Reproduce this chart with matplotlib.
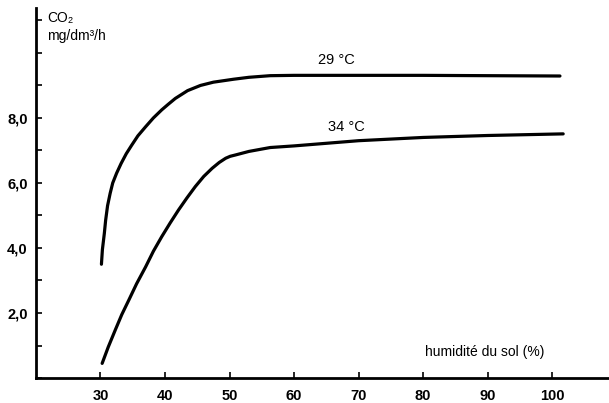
import numpy as np
import matplotlib
matplotlib.use("Agg")
import matplotlib.pyplot as plt
from matplotlib.ticker import FuncFormatter, MultipleLocator

# soil humidity (%) and CO2 release (mg/dm3/h)
hum_29 = [30.15, 30.3, 30.6, 30.8, 31.1, 31.5, 31.9, 32.5, 33.2, 34.0, 34.8, 35.8, 37.0,
          38.2, 39.5, 40.5, 41.6, 43.5, 45.5, 47.5, 50.6, 53, 56.3, 60, 65, 80, 90, 101.2]
co2_29 = [3.5, 3.95, 4.45, 4.85, 5.3, 5.68, 6.0, 6.3, 6.6, 6.9, 7.15, 7.45, 7.73,
          8.0, 8.25, 8.42, 8.6, 8.84, 9.0, 9.1, 9.19, 9.25, 9.3, 9.31, 9.31, 9.31, 9.3, 9.29]

hum_34 = [30.26, 31.2, 32.3, 33.3, 34.4, 35.6, 37.0, 38.2, 39.5, 40.8, 42.1, 43.4, 44.7,
          46.0, 47.3, 48.4, 49.4, 50.1, 50.9, 53, 56.3, 60, 70, 80, 90, 101.7]
co2_34 = [0.45, 0.95, 1.48, 1.95, 2.4, 2.9, 3.42, 3.9, 4.35, 4.77, 5.17, 5.54, 5.89,
          6.2, 6.45, 6.63, 6.76, 6.82, 6.86, 6.97, 7.09, 7.14, 7.3, 7.4, 7.46, 7.51]

x_ticks = [30, 40, 50, 60, 70, 80, 90, 100]
y_ticks = [2, 4, 6, 8]

plt.rcParams['font.family'] = ['Liberation Sans', 'DejaVu Sans']

fig = plt.figure(figsize=(6.09, 4.03), dpi=100)
ax = fig.add_axes([0.059, 0.062, 0.941, 0.918])

ax.plot(hum_29, co2_29, color='black', lw=2.3, solid_capstyle='round', solid_joinstyle='round')
ax.plot(hum_34, co2_34, color='black', lw=2.3, solid_capstyle='round', solid_joinstyle='round')

ax.set_xlim(20, 108.8)
ax.set_ylim(0, 11.38)

ax.spines['top'].set_visible(False)
ax.spines['right'].set_visible(False)
ax.spines['left'].set_linewidth(2.0)
ax.spines['bottom'].set_linewidth(2.0)

ax.set_xticks(x_ticks)
ax.set_yticks(y_ticks)
ax.yaxis.set_minor_locator(MultipleLocator(1))
ax.yaxis.set_major_formatter(FuncFormatter(lambda v, p: ('%.1f' % v).replace('.', ',')))
ax.tick_params(direction='in', length=4, width=1.2, labelsize=10.5)
ax.tick_params(axis='y', which='minor', direction='in', length=4, width=1.2)
ax.tick_params(axis='x', pad=8)
ax.tick_params(axis='y', pad=6)
for lab in ax.get_xticklabels() + ax.get_yticklabels():
    lab.set_fontweight('bold')

ax.text(66.5, 9.78, '29 °C', ha='center', va='center', fontsize=10.5)
ax.text(68.1, 7.72, '34 °C', ha='center', va='center', fontsize=10.5)
ax.text(89.6, 0.8, 'humidité du sol (%)', ha='center', va='center', fontsize=10)

fig.text(47 / 609, 1 - 18 / 403, 'CO₂', ha='left', va='center', fontsize=10)
fig.text(47 / 609, 1 - 36 / 403, 'mg/dm³/h', ha='left', va='center', fontsize=10)

fig.savefig('out.png', dpi=100)
